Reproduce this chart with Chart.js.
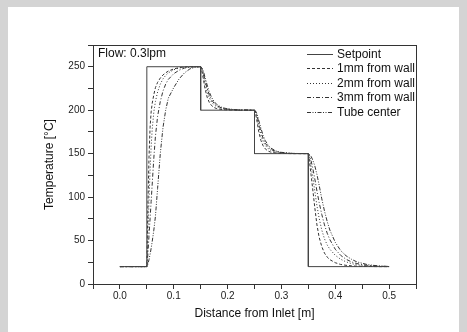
<!DOCTYPE html>
<html>
<head>
<meta charset="utf-8">
<script src="https://cdn.jsdelivr.net/npm/chart.js@4"></script>
<style>
  body { margin: 0; background: #d4d4d4; width: 467px; height: 332px; overflow: hidden; }
  #wrap { position: absolute; left: 8px; top: 7px; width: 451px; height: 325px; background: #fff; }
  canvas { display: block; }
</style>
</head>
<body>
<div id="wrap"><canvas id="chart" width="451" height="325"></canvas></div>
<script>
// setpoint profile (step)
const setX = [0, 0.05, 0.05, 0.15, 0.15, 0.25, 0.25, 0.35, 0.35, 0.5];
const setY = [20, 20, 250, 250, 200, 200, 150, 150, 20, 20];

// shared x grid for the simulated profiles
const simX = [0, 0.05, 0.051, 0.052, 0.054, 0.056, 0.058, 0.06, 0.063, 0.066, 0.07, 0.075, 0.08, 0.085, 0.09, 0.1, 0.11, 0.12, 0.13, 0.14, 0.15,
  0.152, 0.155, 0.158, 0.162, 0.166, 0.17, 0.175, 0.18, 0.19, 0.2, 0.22, 0.25,
  0.252, 0.255, 0.258, 0.262, 0.266, 0.27, 0.275, 0.28, 0.29, 0.3, 0.32, 0.35,
  0.352, 0.355, 0.358, 0.362, 0.366, 0.37, 0.375, 0.38, 0.385, 0.39, 0.4, 0.41, 0.42, 0.43, 0.44, 0.46, 0.48, 0.5];

const wall1 = [20, 20, 55, 90, 145, 180, 198, 208, 218, 226, 232, 237, 240.5, 243, 245, 247.5, 249, 249.7, 250, 250, 250,
  246, 236, 225, 215, 209, 205.5, 203, 201.8, 200.7, 200.3, 200, 200,
  196, 186, 175, 165, 159, 155.5, 153, 151.8, 150.7, 150.3, 150, 150,
  142, 126, 110, 88, 68, 54, 43, 35.5, 31, 28, 24.5, 22.5, 21.5, 20.9, 20.5, 20.2, 20, 20];

const wall2 = [20, 20, 35, 55, 95, 130, 158, 178, 198, 210, 221, 230, 236, 240, 243, 246.5, 248.5, 249.5, 250, 250, 250,
  248, 241, 231, 221, 214, 209.5, 206, 204, 201.8, 200.8, 200.1, 200,
  198, 191, 181, 171, 164, 159.5, 156, 154, 151.8, 150.8, 150.1, 150,
  146, 136, 124, 107, 90, 76, 62, 52, 45, 40, 33, 28.5, 25.5, 23.5, 22.2, 20.9, 20.3, 20];

const wall3 = [20, 20, 26, 35, 55, 75, 95, 115, 145, 170, 193, 210, 222, 230, 235.5, 242, 246, 248.5, 249.5, 250, 250,
  248.5, 243, 234.5, 225, 217.5, 212, 208, 205, 202.3, 201.2, 200.2, 200,
  198.5, 193, 184.5, 175, 167.5, 162, 158, 155, 152.3, 151.2, 150.2, 150,
  148, 142, 134, 121, 107, 94, 80, 68, 58.5, 51, 40, 33, 28.5, 25.5, 23.5, 21.4, 20.5, 20.1];

const center = [20, 20, 21, 23, 28, 34, 41, 49, 62, 78, 110, 150, 180, 200, 214, 226, 236, 243, 247.5, 249.5, 250,
  249, 245, 238, 229, 221, 215, 210, 206.5, 203, 201.5, 200.3, 200,
  199, 195, 188, 179, 171, 165, 160, 156.5, 153, 151.5, 150.3, 150,
  149, 147, 143, 136, 126, 114, 98, 84, 72, 62, 48, 38.5, 32.5, 28.5, 25.5, 22.3, 20.8, 20.2];

const seriesNames = ['Setpoint', '1mm from wall', '2mm from wall', '3mm from wall', 'Tube center'];
const annotationText = 'Flow: 0.3lpm';

const FONT = 'Arial, "Liberation Sans", sans-serif';
const toPts = (xs, ys) => xs.map((x, i) => ({ x: x, y: ys[i] }));

function lineSet(label, data, dash, color) {
  return {
    label, data,
    borderColor: color || '#333',
    borderWidth: 1,
    borderDash: dash,
    pointRadius: 0,
    fill: false,
    tension: 0
  };
}

// legend inside plot + flow note + box frame
const insidePlot = {
  id: 'insidePlot',
  afterDraw(chart) {
    const { ctx, chartArea: a } = chart;
    ctx.save();
    ctx.strokeStyle = '#333';
    ctx.lineWidth = 1;
    ctx.setLineDash([]);
    ctx.strokeRect(Math.round(a.left) + 0.5, Math.round(a.top) + 0.5,
      Math.round(a.right - a.left), Math.round(a.bottom - a.top));

    ctx.font = '12px ' + FONT;
    ctx.fillStyle = '#111';
    ctx.textBaseline = 'middle';
    ctx.fillText(annotationText, a.left + 5, a.top + 9);

    chart.data.datasets.forEach((ds, i) => {
      const y = Math.round(a.top + 8.5 + i * 14.6) + 0.5;
      ctx.strokeStyle = ds.borderColor;
      ctx.setLineDash(ds.borderDash || []);
      ctx.beginPath();
      ctx.moveTo(a.right - 109, y);
      ctx.lineTo(a.right - 83, y);
      ctx.stroke();
      ctx.fillText(ds.label, a.right - 79, y);
    });
    ctx.restore();
  }
};

new Chart(document.getElementById('chart'), {
  type: 'line',
  data: {
    datasets: [
      lineSet(seriesNames[0], toPts(setX, setY), [], '#444'),
      lineSet(seriesNames[1], toPts(simX, wall1), [3, 2]),
      lineSet(seriesNames[2], toPts(simX, wall2), [1, 2]),
      lineSet(seriesNames[3], toPts(simX, wall3), [4, 2, 1, 2]),
      lineSet(seriesNames[4], toPts(simX, center), [4, 1.5, 1, 1.5, 1, 1.5])
    ]
  },
  plugins: [insidePlot],
  options: {
    responsive: false,
    animation: false,
    layout: { padding: { left: 30, right: 43, top: 38, bottom: 8 } },
    plugins: { legend: { display: false }, tooltip: { enabled: false } },
    scales: {
      x: {
        type: 'linear',
        min: -0.05, max: 0.55,
        afterFit: s => { s.height = 40; },
        ticks: {
          stepSize: 0.05,
          autoSkip: false,
          maxRotation: 0,
          padding: 1,
          color: '#222',
          font: { family: FONT, size: 10 },
          callback: v => (Math.round(v * 100) % 10 === 0 ? v.toFixed(1) : '')
        },
        grid: { drawOnChartArea: false, drawTicks: true, tickLength: 5, color: '#333' },
        border: { color: '#333' },
        title: { display: true, text: 'Distance from Inlet [m]', color: '#111',
          font: { family: FONT, size: 12 }, padding: { top: 0, bottom: 3 } }
      },
      y: {
        min: 0, max: 275,
        afterFit: s => { s.width = 55; },
        ticks: {
          stepSize: 25,
          autoSkip: false,
          padding: 3,
          color: '#222',
          font: { family: FONT, size: 10 },
          callback: v => (v % 50 === 0 ? String(v) : '')
        },
        grid: { drawOnChartArea: false, drawTicks: true, tickLength: 5, color: '#333' },
        border: { color: '#333' },
        title: { display: true, text: 'Temperature [°C]', color: '#111',
          font: { family: FONT, size: 12 }, padding: { top: 4, bottom: 4 } }
      }
    }
  }
});
</script>
</body>
</html>
